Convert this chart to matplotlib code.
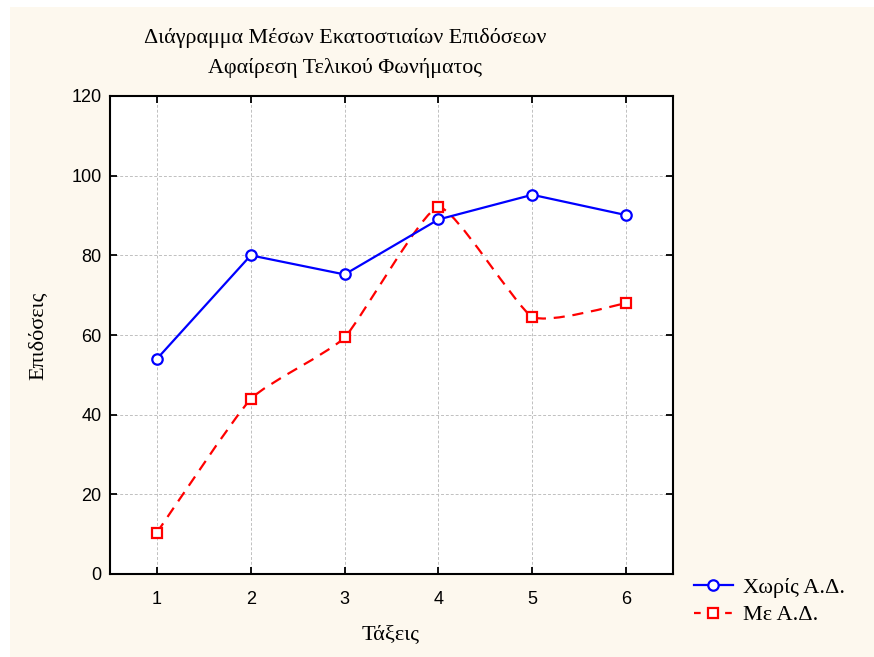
import numpy as np
import matplotlib.pyplot as plt
from matplotlib.path import Path
from matplotlib.patches import PathPatch, Rectangle
from matplotlib.lines import Line2D

# Data
classes = [1, 2, 3, 4, 5, 6]
without_ad = [54.0, 80.0, 75.2, 89.0, 95.2, 90.1]   # Χωρίς Α.Δ.
with_ad = [10.4, 43.9, 59.4, 92.1, 64.6, 68.0]      # Με Α.Δ.
yticks = [0, 20, 40, 60, 80, 100, 120]

title = 'Διάγραμμα Μέσων Εκατοστιαίων Επιδόσεων\nΑφαίρεση Τελικού Φωνήματος'
xlabel = 'Τάξεις'
ylabel = 'Επιδόσεις'
labels = ['Χωρίς Α.Δ.', 'Με Α.Δ.']

serif = ['Liberation Serif', 'DejaVu Serif']
sans = ['Liberation Sans', 'DejaVu Sans']
plt.rcParams['font.family'] = sans

W, H = 874, 657
fig = plt.figure(figsize=(W / 100, H / 100), dpi=100, facecolor='white')

# cream background panel
fig.patches.append(Rectangle((10 / W, 0), 1 - 10 / W, 1 - 7 / H, transform=fig.transFigure,
                             facecolor='#fdf8ee', edgecolor='none', zorder=-10))

ax = fig.add_axes([110 / W, 1 - 574 / H, (673 - 110) / W, (574 - 96) / H])
ax.set_facecolor('white')


def smooth_path(xs, ys, k=12):
    # light spline smoothing (cardinal spline as cubic bezier path)
    pts = np.column_stack([xs, ys]).astype(float)
    p = np.vstack([pts[0], pts, pts[-1]])
    verts = [pts[0]]
    codes = [Path.MOVETO]
    for i in range(1, len(p) - 2):
        c1 = p[i] + (p[i + 1] - p[i - 1]) / k
        c2 = p[i + 1] - (p[i + 2] - p[i]) / k
        verts += [c1, c2, p[i + 1]]
        codes += [Path.CURVE4] * 3
    return Path(verts, codes)


ax.plot(classes, without_ad, color='#0000ff', lw=1.6, marker='o', ms=7.5,
        mfc='white', mec='#0000ff', mew=1.6, zorder=4)

red = PathPatch(smooth_path(classes, with_ad), facecolor='none', edgecolor='#ff0000',
                lw=1.6, linestyle=(0, (5, 3.5)), zorder=3)
ax.add_patch(red)
ax.plot(classes, with_ad, ls='none', marker='s', ms=7, mfc='white', mec='#ff0000',
        mew=1.6, zorder=5)

ax.set_xlim(0.5, 6.5)
ax.set_ylim(0, 120)
ax.set_xticks(classes)
ax.set_yticks(yticks)
ax.grid(True, color='#c0c0c0', ls=(0, (3, 2)), lw=0.7)
ax.tick_params(direction='in', length=5, width=1.3, top=True, right=True,
               labelsize=13, pad=12)
ax.tick_params(axis='y', pad=6)
for s in ax.spines.values():
    s.set_linewidth(1.5)

fig.text(345 / W, 1 - 53 / H, title, ha='center', va='center', fontsize=15.8,
         family=serif, linespacing=1.6)
fig.text(391 / W, 1 - 635 / H, xlabel, ha='center', va='center', fontsize=16, family=serif)
fig.text(38 / W, 1 - 336 / H, ylabel, ha='center', va='center', rotation=90,
         fontsize=16, family=serif)

handles = [
    Line2D([], [], color='#0000ff', lw=1.6, marker='o', ms=7.5, mfc='white', mew=1.6),
    Line2D([], [], color='#ff0000', lw=1.6, ls=(0, (3, 4)), marker='s', ms=7,
           mfc='white', mew=1.6),
]
fig.legend(handles, labels, loc='upper left', bbox_to_anchor=(687 / W, 1 - 571 / H),
           frameon=False, prop={'family': serif, 'size': 16}, handlelength=1.75,
           handletextpad=0.45, labelspacing=0.3, borderaxespad=0, borderpad=0.3)

fig.savefig('out.png', dpi=100, facecolor=fig.get_facecolor())
